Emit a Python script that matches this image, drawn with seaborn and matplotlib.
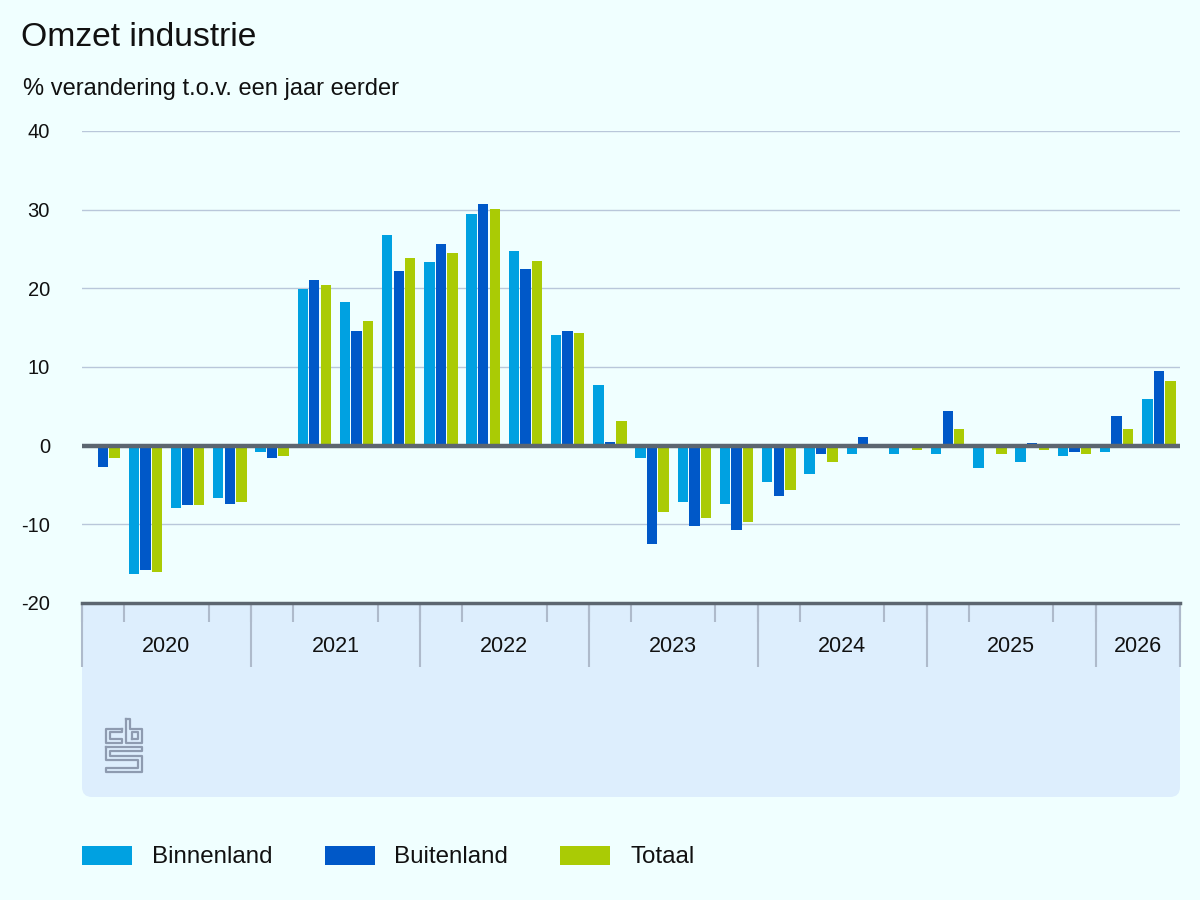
import numpy as np
import pandas as pd
import matplotlib
matplotlib.use("Agg")
import matplotlib.pyplot as plt
from matplotlib.patches import FancyBboxPatch
from matplotlib.transforms import IdentityTransform
from matplotlib.lines import Line2D
import seaborn as sns

# ---------------- data ----------------
years = ["2020", "2021", "2022", "2023", "2024", "2025", "2026"]
quarters_per_year = [4, 4, 4, 4, 4, 4, 2]
quarter_labels = [f"{y} K{q+1}" for y, n in zip(years, quarters_per_year) for q in range(n)]

binnenland = [-0.2, -16.3, -7.9, -6.7, -0.8, 19.9, 18.2, 26.8, 23.3, 29.4, 24.8, 14.1, 7.7,
              -1.6, -7.2, -7.4, -4.6, -3.6, -1.1, -1.1, -1.1, -2.9, -2.1, -1.3, -0.8, 5.9]
buitenland = [-2.7, -15.8, -7.6, -7.4, -1.6, 21.0, 14.6, 22.2, 25.6, 30.7, 22.5, 14.6, 0.5,
              -12.5, -10.2, -10.7, -6.4, -1.1, 1.1, 0.0, 4.4, 0.0, 0.3, -0.8, 3.8, 9.5]
totaal = [-1.6, -16.1, -7.6, -7.1, -1.3, 20.4, 15.9, 23.8, 24.5, 30.1, 23.5, 14.3, 3.1,
          -8.4, -9.2, -9.7, -5.6, -2.1, 0.2, -0.6, 2.1, -1.1, -0.6, -1.1, 2.1, 8.2]
series_names = ["Binnenland", "Buitenland", "Totaal"]
y_ticks = [-20, -10, 0, 10, 20, 30, 40]

df = pd.DataFrame({
    "kwartaal": quarter_labels * 3,
    "waarde": binnenland + buitenland + totaal,
    "reeks": [s for s in series_names for _ in quarter_labels],
})

# ---------------- style ----------------
BG = "#F0FFFF"
PANEL = "#DDEEFD"
GRID = "#B9C7DA"
DARK = "#5C6670"
TICKC = "#AEBACB"
colors = {"Binnenland": "#00A1E1", "Buitenland": "#0058C8", "Totaal": "#AACB05"}

plt.rcParams["font.family"] = ["Liberation Sans", "DejaVu Sans"]
plt.rcParams["text.color"] = "#111111"

fig = plt.figure(figsize=(12, 9), dpi=100, facecolor=BG)
W, H = 1200, 900
ax = fig.add_axes([82 / W, (H - 603) / H, 1098 / W, 472 / H])
ax.set_facecolor(BG)

# panel under the axis (rounded bottom corners)
panel = FancyBboxPatch((82, H - 797), 1098, 300,
                       boxstyle="round,pad=0,rounding_size=10",
                       transform=IdentityTransform(), facecolor=PANEL,
                       edgecolor="none", zorder=-5)
fig.add_artist(panel)

sns.barplot(data=df, x="kwartaal", y="waarde", hue="reeks", order=quarter_labels,
            hue_order=series_names, palette=colors, width=0.82, gap=0.1,
            saturation=1, ax=ax, zorder=2, linewidth=0)

ax.set_xlim(-0.5, len(quarter_labels) - 0.5)
ax.set_ylim(-20, 40)
ax.set_yticks(y_ticks)
ax.set_yticklabels([str(v) for v in y_ticks], fontsize=14.5, color="#111111")
ax.tick_params(axis="y", length=0, pad=23)
ax.grid(axis="y", color=GRID, linewidth=1, zorder=0)
ax.set_axisbelow(True)
for s in ["left", "right", "top"]:
    ax.spines[s].set_visible(False)
ax.spines["bottom"].set_color(DARK)
ax.spines["bottom"].set_linewidth(2.5)
ax.axhline(0, color=DARK, linewidth=3.2, zorder=4)
ax.set_xlabel("")
ax.set_ylabel("")

# x axis: year labels + quarter / year ticks
bounds = np.cumsum([0] + quarters_per_year)
centers = [(bounds[i] + bounds[i + 1]) / 2 - 0.5 for i in range(len(years))]
ax.set_xticks(centers)
ax.set_xticklabels(years, fontsize=15.5, color="#111111")
ax.tick_params(axis="x", which="major", length=0, pad=24)
ax.set_xticks(np.arange(len(quarter_labels) + 1) - 0.5, minor=True)
ax.tick_params(axis="x", which="minor", length=13.5, width=1.5, color=TICKC, direction="out")
ax.vlines(bounds - 0.5, 0, -64 / 472, transform=ax.get_xaxis_transform(),
          colors=TICKC, linewidth=1.5, clip_on=False, zorder=1)

# title and subtitle
fig.text(21 / W, 1 - 46 / H, "Omzet industrie", fontsize=24.2, ha="left", va="baseline")
fig.text(23 / W, 1 - 95 / H, "% verandering t.o.v. een jaar eerder", fontsize=17,
         ha="left", va="baseline")

# legend
fs = 17.4
px = fs * 100 / 72
sns.move_legend(ax, "center left", bbox_to_anchor=(82 / W, 1 - 857 / H),
                bbox_transform=fig.transFigure, ncol=3, frameon=False, title=None,
                fontsize=fs, handlelength=50 / px, handleheight=20 / px,
                handletextpad=20 / px, columnspacing=52 / px, borderpad=0, borderaxespad=0)

# CBS logo (simple line drawing)
lx0, lx1, ly0, ly1 = 106, 142, H - 772, H - 719
def to_px(pts):
    return ([lx0 + p[0] * (lx1 - lx0) for p in pts], [ly0 + p[1] * (ly1 - ly0) for p in pts])
logo_shapes = [
    [(0.45, 0.82), (0, 0.82), (0, 0.55), (0.45, 0.55), (0.45, 0.62), (0.1, 0.62), (0.1, 0.75), (0.45, 0.75), (0.45, 0.82)],
    [(0.55, 1.0), (0.66, 1.0), (0.66, 0.82), (1, 0.82), (1, 0.55), (0.55, 0.55), (0.55, 1.0)],
    [(0.72, 0.62), (0.9, 0.62), (0.9, 0.75), (0.72, 0.75), (0.72, 0.62)],
    [(0, 0.48), (1, 0.48), (1, 0.40), (0.12, 0.40), (0.12, 0.31), (1, 0.31), (1, 0), (0, 0),
     (0, 0.08), (0.88, 0.08), (0.88, 0.23), (0, 0.23), (0, 0.48)],
]
for shp in logo_shapes:
    xs, ys = to_px(shp)
    fig.add_artist(Line2D(xs, ys, transform=IdentityTransform(), color="#8E9BB0", linewidth=1.6))

fig.savefig("out.png", dpi=100, facecolor=BG)
